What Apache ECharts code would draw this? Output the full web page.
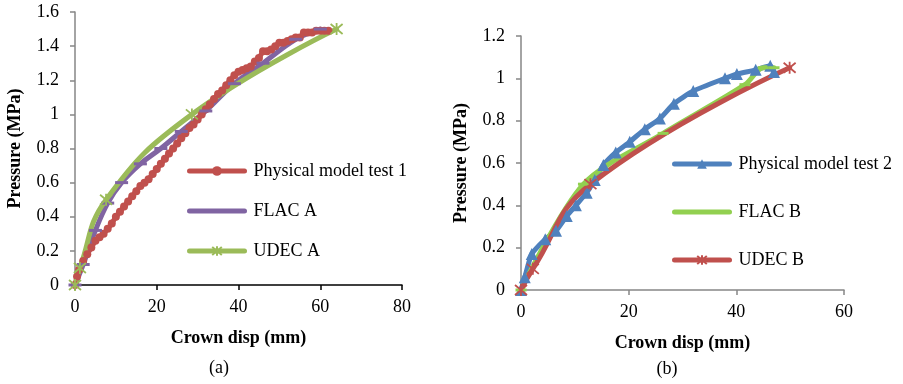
<!DOCTYPE html>
<html>
<head>
<meta charset="utf-8">
<script src="https://cdn.jsdelivr.net/npm/echarts@6/dist/echarts.min.js"></script>
<style>
  html, body { margin: 0; padding: 0; background: #fff; }
  #chart { width: 903px; height: 384px; }
</style>
</head>
<body>
<div id="chart"></div>
<script>
// chart (a): crown disp (mm) vs pressure (MPa)
const physical1 = [
  [0, 0], [0.5, 0.05], [1, 0.09], [2, 0.14], [3, 0.18], [4, 0.22], [5, 0.26], [6, 0.28],
  [7, 0.3], [8, 0.33], [9, 0.36], [10, 0.4], [11, 0.43], [12, 0.46], [13, 0.49], [14, 0.52],
  [15, 0.55], [16, 0.58], [17, 0.6], [18, 0.62], [19, 0.65], [20, 0.68], [21, 0.71], [22, 0.74],
  [23, 0.77], [24, 0.8], [25, 0.83], [26, 0.86], [27, 0.89], [28, 0.92], [29, 0.94], [30, 0.97],
  [31, 1.0], [32, 1.03], [33, 1.06], [34, 1.09], [35, 1.12], [36, 1.14], [37, 1.17], [38, 1.2],
  [39, 1.23], [40, 1.25], [41, 1.26], [42, 1.27], [43, 1.28], [44, 1.31], [45, 1.33], [46, 1.37],
  [47, 1.37], [48, 1.38], [49, 1.4], [50, 1.42], [51, 1.42], [52, 1.43], [53, 1.44], [54, 1.45],
  [55, 1.45], [56, 1.48], [57, 1.48], [58, 1.48], [59, 1.49], [60, 1.49], [61, 1.49], [62, 1.49]
]
const flacA = [[0, 0], [2, 0.12], [5, 0.32], [8, 0.48], [11.4, 0.6], [16, 0.71], [21, 0.8], [26, 0.9],
  [32, 1.02], [39, 1.18], [46, 1.3], [54, 1.44], [60, 1.5]]
const udecA = [[0, 0], [1.2, 0.1], [7.6, 0.5], [28.6, 1.0], [64, 1.5]]

// chart (b)
const physical2 = [[0, 0], [0.7, 0.06], [2, 0.17], [4.5, 0.24], [6.5, 0.28], [8.5, 0.35], [10.2, 0.4],
  [12.2, 0.46], [13.7, 0.52], [15.3, 0.59], [17.6, 0.65], [20.2, 0.7], [23, 0.76], [25.8, 0.81],
  [28.4, 0.88], [32, 0.94], [37.9, 1.0], [40.1, 1.02], [43.6, 1.04], [46.3, 1.06], [47, 1.03]]
const flacB = [[0, 0], [11.6, 0.5], [26.4, 0.74], [41.6, 0.97], [45, 1.05], [47, 1.05]]
const udecB = [[0, 0], [2.2, 0.1], [12.9, 0.5], [49.9, 1.05]]

const xTicksA = { min: 0, max: 80, interval: 20 }
const yTicksA = { min: 0, max: 1.6, interval: 0.2 }
const xTicksB = { min: 0, max: 60, interval: 20 }
const yTicksB = { min: 0, max: 1.2, interval: 0.2 }

const FONT = '"Liberation Serif", "Times New Roman", serif'
const STAR = 'path://M0,0L10,10M10,0L0,10M5,-1L5,11'

const axisText = { fontFamily: FONT, fontSize: 18, color: '#000' }
const nameText = { fontFamily: FONT, fontSize: 18, fontWeight: 'bold', color: '#000' }

const xAxis = (grid, ticks, lineColor) => ({
  type: 'value', gridIndex: grid, ...ticks,
  name: 'Crown disp (mm)', nameLocation: 'middle', nameGap: 44, nameTextStyle: nameText,
  axisLine: { show: true, lineStyle: { color: lineColor, width: 1.5 } },
  axisTick: { show: true, length: 5, lineStyle: { color: lineColor, width: 1.5 } },
  axisLabel: { ...axisText, margin: 13 },
  splitLine: { show: false },
})
const yAxis = (grid, ticks) => ({
  type: 'value', gridIndex: grid, ...ticks,
  name: 'Pressure (MPa)', nameLocation: 'middle', nameGap: 51, nameTextStyle: nameText,
  axisLine: { show: true, onZero: false, lineStyle: { color: '#868686', width: 1.5 } },
  axisTick: { show: true, length: 5, lineStyle: { color: '#868686', width: 1.5 } },
  axisLabel: { ...axisText, margin: 16 },
  splitLine: { show: false },
})

const line = (name, idx, data, color, symbol, size, smooth, border) => ({
  name, type: 'line', xAxisIndex: idx, yAxisIndex: idx, data, smooth,
  symbol, symbolSize: size, showSymbol: symbol !== 'none',
  lineStyle: { color, width: 5, cap: 'round', join: 'round' },
  itemStyle: { color, borderColor: color, borderWidth: border },
  emphasis: { disabled: true },
})

const legend = (left, top, gap, names) => ({
  orient: 'vertical', left, top, padding: 0, itemGap: gap, itemWidth: 55, itemHeight: 12,
  data: names,
  textStyle: { ...axisText, lineHeight: 18, padding: [0, 0, 0, 4] },
  lineStyle: { width: 5, cap: 'round' },
})
const plainItem = (name) => ({ name, itemStyle: { opacity: 0 } })

const chart = echarts.init(document.getElementById('chart'), null, { renderer: 'canvas' })
chart.setOption({
  animation: false,
  backgroundColor: '#fff',
  grid: [
    { left: 75, top: 12, width: 327, height: 273 },
    { left: 521, top: 36, width: 323, height: 254 },
  ],
  xAxis: [xAxis(0, xTicksA, '#000'), xAxis(1, xTicksB, '#868686')],
  yAxis: [yAxis(0, yTicksA), yAxis(1, yTicksB)],
  legend: [
    legend(187, 162, 22, ['Physical model test 1', plainItem('FLAC A'), 'UDEC A']),
    legend(672, 155, 30, ['Physical model test 2', plainItem('FLAC B'), 'UDEC B']),
  ],
  series: [
    line('Physical model test 1', 0, physical1, '#C0504D', 'circle', 8, false, 0),
    line('FLAC A', 0, flacA, '#8064A2', 'rect', [13, 3], 0.4, 0),
    line('UDEC A', 0, udecA, '#9BBB59', STAR, 12, 0.45, 1.8),
    line('Physical model test 2', 1, physical2, '#4F81BD', 'triangle', 12, 0.2, 0),
    line('FLAC B', 1, flacB, '#92D050', 'rect', [11, 3], 0.3, 0),
    line('UDEC B', 1, udecB, '#C0504D', STAR, 12, 0.45, 1.8),
  ],
  graphic: [
    { type: 'text', x: 219, y: 368, style: { text: '(a)', font: '18px ' + FONT, fill: '#000', align: 'center', verticalAlign: 'middle' } },
    { type: 'text', x: 667, y: 369, style: { text: '(b)', font: '18px ' + FONT, fill: '#000', align: 'center', verticalAlign: 'middle' } },
  ],
})
</script>
</body>
</html>
